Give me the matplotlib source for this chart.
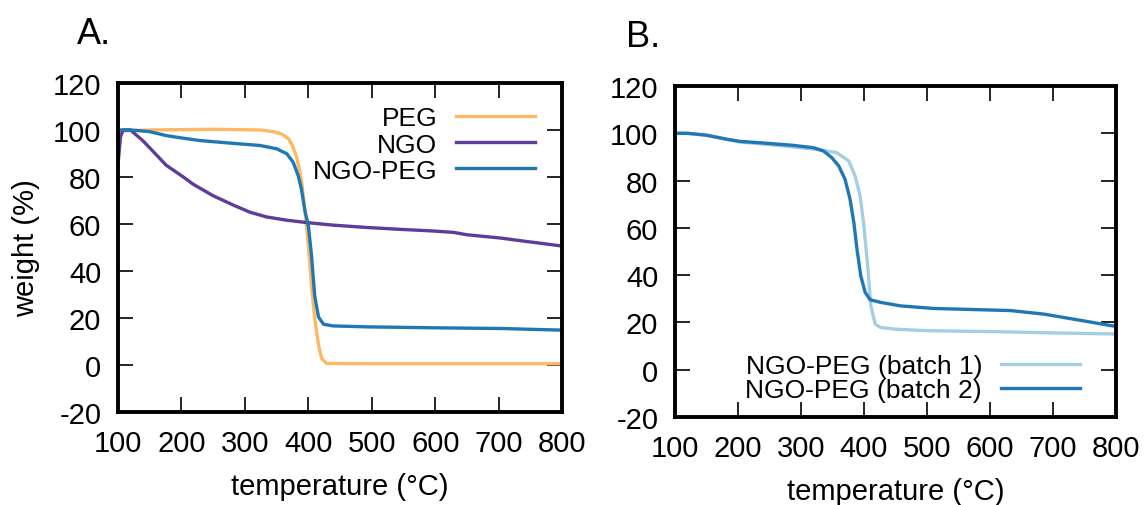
import matplotlib
matplotlib.use("agg")
import matplotlib.pyplot as plt

plt.rcParams['font.family'] = ['Liberation Sans', 'DejaVu Sans']
plt.rcParams['axes.unicode_minus'] = False

# TGA curves, panel A
peg_t = [100, 150, 250, 324, 345, 358, 369, 376, 382, 389, 395, 400, 405, 410, 416, 421, 429, 500, 650, 800]
peg_w = [99.5, 100, 100.3, 100, 99.3, 98.3, 96.2, 92.7, 88, 79, 65, 51, 34, 20, 8.5, 2.7, 0.6, 0.5, 0.5, 0.5]

ngo_t = [100, 104, 108, 120, 124, 139, 155, 176, 203, 218, 250, 282, 308, 334, 366, 397, 439,
         492, 545, 597, 629, 650, 703, 745, 800]
ngo_w = [85, 97, 100, 100, 99, 95.5, 91, 85, 80, 77, 72, 68, 65, 63, 61.6, 60.6, 59.5,
         58.5, 57.7, 57, 56.4, 55.4, 54, 52.5, 50.6]

ngopeg_t = [100, 120, 150, 176, 203, 229, 282, 324, 350, 366, 376, 384, 389, 395, 400, 405, 410,
            416, 424, 439, 492, 597, 703, 800]
ngopeg_w = [100, 100, 99.3, 97.6, 96.5, 95.5, 94.3, 93.4, 92, 89.9, 86.3, 80.6, 75, 65, 59.4, 46.6, 29.5,
            20.4, 17.3, 16.6, 16.2, 15.8, 15.5, 14.8]

# panel B, two batches of NGO-PEG
b1_t = [100, 120, 150, 182, 203, 235, 288, 325, 357, 376, 386, 394, 400, 406, 411, 418, 426, 447,
        500, 606, 712, 800]
b1_w = [100, 100, 99.2, 97.5, 96.3, 95.6, 94.2, 93.2, 91.8, 88.3, 82, 73.5, 60.8, 43.9, 27, 19.3, 17.9, 17.2,
        16.5, 16.1, 15.5, 15.1]

b2_t = [100, 120, 150, 182, 203, 235, 288, 320, 336, 349, 360, 370, 378, 384, 389, 395, 402, 410,
        426, 458, 511, 580, 633, 686, 739, 800]
b2_w = [100, 100, 99.2, 97.5, 96.6, 96, 94.9, 93.9, 92.5, 89.7, 86.2, 80.6, 72.1, 62.3, 51, 39.7, 32.7, 29.6,
        28.5, 27, 25.9, 25.4, 25, 23.5, 21.1, 18.3]

xticks = list(range(100, 801, 100))
yticks = list(range(-20, 121, 20))

fs = 19
fig = plt.figure(figsize=(11.45, 5.06), dpi=100)
axA = fig.add_axes([0.103, 0.184, 0.388, 0.650])
axB = fig.add_axes([0.5895, 0.174, 0.385, 0.654])

lw = 2.4
axA.plot(peg_t, peg_w, color="#fdb863", lw=lw, label="PEG")
axA.plot(ngo_t, ngo_w, color="#5e3c99", lw=lw, label="NGO")
axA.plot(ngopeg_t, ngopeg_w, color="#1f78b4", lw=lw, label="NGO-PEG")

axB.plot(b1_t, b1_w, color="#a6cee3", lw=lw, label="NGO-PEG (batch 1)")
axB.plot(b2_t, b2_w, color="#1f78b4", lw=lw, label="NGO-PEG (batch 2)")

for ax in (axA, axB):
    ax.set_xlim(100, 800)
    ax.set_ylim(-20, 120)
    ax.set_xticks(xticks)
    ax.set_yticks(yticks)
    ax.tick_params(direction="in", length=11, width=1.2, top=True, right=True, labelsize=21)
    ax.tick_params(axis="x", pad=12)
    ax.tick_params(axis="y", pad=12)
    for s in ax.spines.values():
        s.set_linewidth(2.8)
    ax.set_xlabel("temperature (°C)", fontsize=21, labelpad=11)

axA.set_ylabel("weight (%)", fontsize=21, labelpad=9)

axA.legend(loc="upper right", bbox_to_anchor=(0.98, 0.985), frameon=False, markerfirst=False,
           fontsize=fs, handlelength=3.0, labelspacing=0.08, borderaxespad=0.3, handletextpad=0.7)
axB.legend(loc="lower right", bbox_to_anchor=(0.96, -0.012), frameon=False, markerfirst=False,
           fontsize=fs, handlelength=3.0, labelspacing=0.0, borderaxespad=0.3, handletextpad=0.7)

fig.text(0.082, 0.932, "A.", fontsize=26, ha="center", va="center")
fig.text(0.562, 0.925, "B.", fontsize=26, ha="center", va="center")

fig.savefig("out.png", dpi=100)
